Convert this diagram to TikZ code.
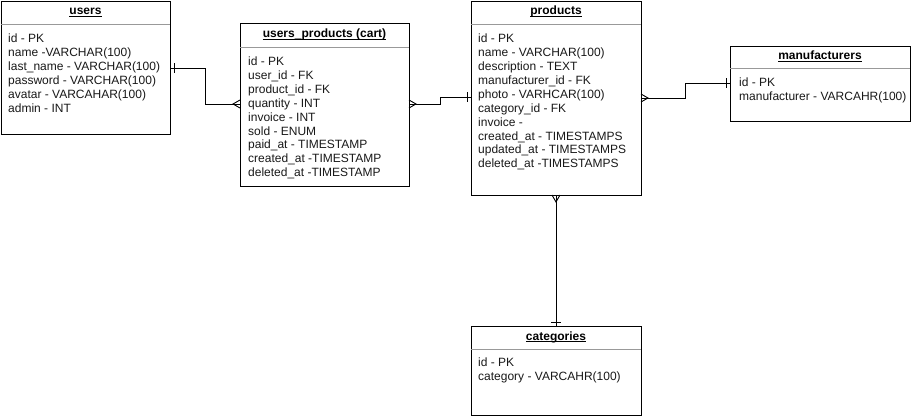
\documentclass[tikz,border=0pt]{standalone}
\usepackage{fontspec}
\setmainfont{Liberation Sans}
\begin{document}
\begin{tikzpicture}[x=1pt,y=-1pt,
  tbl/.style={draw=black, line width=0.9pt, inner sep=0pt, outer sep=0pt},
  fld/.style={anchor=base west, inner sep=0pt, font=\fontsize{12}{14}\selectfont, text=black!90},
  ttl/.style={anchor=base, inner sep=0pt, font=\fontsize{12}{14}\selectfont\bfseries},
  sepline/.style={draw=black!40, line width=0.9pt},
  uline/.style={draw=black, line width=0.8pt},
  rel/.style={draw=black, line width=0.9pt}]
\useasboundingbox (0,0) rectangle (911,416);
\fill[white] (0,0) rectangle (911,416);

% users
\node[tbl, minimum width=169pt, minimum height=133pt] (users) at (85.5,67.5) {};
\draw[sepline] ([yshift=-23pt]users.north west) -- ([yshift=-23pt]users.north east);
\node[ttl] (usersT) at (85.5,14.7) {users};
\draw[uline] ([yshift=-1.5pt]usersT.base west) -- ([yshift=-1.5pt]usersT.base east);
\foreach \t [count=\i from 0] in {id - PK, name -VARCHAR(100), last\_name - VARCHAR(100), password - VARCHAR(100), avatar - VARCAHAR(100), admin - INT}
  \node[fld] (users-f\i) at (8,42.5+13.9*\i) {\t};

% cart
\node[tbl, minimum width=169pt, minimum height=163pt] (cart) at (324.5,104.5) {};
\draw[sepline] ([yshift=-24pt]cart.north west) -- ([yshift=-24pt]cart.north east);
\node[ttl] (cartT) at (324.5,37.7) {users\_products (cart)};
\draw[uline] ([yshift=-1.5pt]cartT.base west) -- ([yshift=-1.5pt]cartT.base east);
\foreach \t [count=\i from 0] in {id - PK, user\_id - FK, product\_id - FK, quantity - INT, invoice - INT, sold - ENUM, paid\_at - TIMESTAMP, created\_at -TIMESTAMP, deleted\_at -TIMESTAMP}
  \node[fld] (cart-f\i) at (248,65.5+13.9*\i) {\t};

% products
\node[tbl, minimum width=170pt, minimum height=194pt] (products) at (556,98) {};
\draw[sepline] ([yshift=-23pt]products.north west) -- ([yshift=-23pt]products.north east);
\node[ttl] (productsT) at (556,14.7) {products};
\draw[uline] ([yshift=-1.5pt]productsT.base west) -- ([yshift=-1.5pt]productsT.base east);
\foreach \t [count=\i from 0] in {id - PK, name - VARCHAR(100), description - TEXT, manufacturer\_id - FK, photo - VARHCAR(100), category\_id - FK, invoice -, created\_at - TIMESTAMPS, updated\_at - TIMESTAMPS, deleted\_at -TIMESTAMPS}
  \node[fld] (products-f\i) at (478,42.7+13.9*\i) {\t};

% manufacturers
\node[tbl, minimum width=180pt, minimum height=75pt] (manufacturers) at (820,83.5) {};
\draw[sepline] ([yshift=-22pt]manufacturers.north west) -- ([yshift=-22pt]manufacturers.north east);
\node[ttl] (manufacturersT) at (820,59.5) {manufacturers};
\draw[uline] ([yshift=-1.5pt]manufacturersT.base west) -- ([yshift=-1.5pt]manufacturersT.base east);
\foreach \t [count=\i from 0] in {id - PK, manufacturer - VARCAHR(100)}
  \node[fld] (manufacturers-f\i) at (739,86.7+13.9*\i) {\t};

% categories
\node[tbl, minimum width=170pt, minimum height=89pt] (categories) at (556,370.5) {};
\draw[sepline] ([yshift=-23pt]categories.north west) -- ([yshift=-23pt]categories.north east);
\node[ttl] (categoriesT) at (556,340) {categories};
\draw[uline] ([yshift=-1.5pt]categoriesT.base west) -- ([yshift=-1.5pt]categoriesT.base east);
\foreach \t [count=\i from 0] in {id - PK, category - VARCAHR(100)}
  \node[fld] (categories-f\i) at (478,366.7+13.9*\i) {\t};

% users -> cart
\draw[rel] ([yshift=-67pt]users.north east) -- ++(35,0) |- ([yshift=-81pt]cart.north west);
\draw[rel] ([xshift=4pt,yshift=-62pt]users.north east) -- ++(0,10);
\draw[rel] ([yshift=-77pt]cart.north west) -- ++(-7,4) -- ++(7,4);

% cart -> products
\draw[rel] ([yshift=-81pt]cart.north east) -- ++(31,0) |- ([yshift=-96pt]products.north west);
\draw[rel] ([yshift=-77pt]cart.north east) -- ++(7,4) -- ++(-7,4);
\draw[rel] ([xshift=-4pt,yshift=-91pt]products.north west) -- ++(0,10);

% products -> manufacturers
\draw[rel] ([yshift=-97pt]products.north east) -- ++(44,0) |- ([yshift=-37pt]manufacturers.north west);
\draw[rel] ([yshift=-93pt]products.north east) -- ++(7,4) -- ++(-7,4);
\draw[rel] ([xshift=-4pt,yshift=-32pt]manufacturers.north west) -- ++(0,10);

% products -> categories
\draw[rel] (products.south) -- (categories.north);
\draw[rel] ([xshift=-4pt]products.south) -- ++(4,7) -- ++(4,-7);
\draw[rel] ([xshift=-5pt,yshift=4pt]categories.north) -- ++(10,0);
\end{tikzpicture}
\end{document}
